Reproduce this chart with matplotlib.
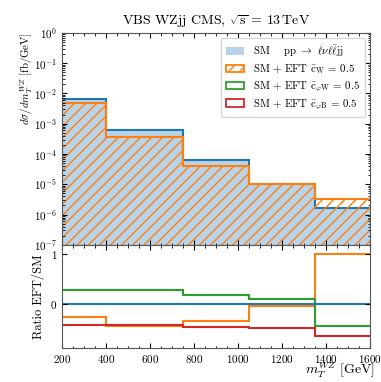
import numpy as np
import matplotlib
matplotlib.use('Agg')
import matplotlib.pyplot as plt
from matplotlib.patches import Patch

plt.rcParams['font.family'] = 'serif'
plt.rcParams['font.serif'] = ['cmr10', 'DejaVu Serif']
plt.rcParams['mathtext.fontset'] = 'cm'
plt.rcParams['axes.unicode_minus'] = False
plt.rcParams['axes.formatter.use_mathtext'] = True

# bin edges in m_T^WZ [GeV]
bin_edges = [200, 400, 750, 1050, 1350, 1600]
# d sigma / d m_T [fb/GeV]
sm_xsec = [6.4e-3, 6.4e-4, 6.5e-5, 1.0e-5, 1.6e-6]
eft_cw_xsec = [5.0e-3, 3.7e-4, 4.1e-5, 1.0e-5, 3.2e-6]
# ratio EFT/SM - 1
ratio_cw = [-0.25, -0.44, -0.34, -0.03, 1.0]
ratio_cphiw = [0.28, 0.28, 0.175, 0.095, -0.43]
ratio_cphib = [-0.42, -0.42, -0.455, -0.48, -0.64]
ratio_sm = [0, 0, 0, 0, 0]

fig = plt.figure(figsize=(3.81, 3.82), dpi=100)
ax = fig.add_axes([0.163, 0.359, 0.808, 0.555])
rax = fig.add_axes([0.163, 0.089, 0.808, 0.270], sharex=ax)

ymin = 1e-7
ax.stairs(sm_xsec, bin_edges, baseline=ymin, fill=True, color='#b9d3e8', lw=0)
ax.stairs(sm_xsec, bin_edges, baseline=None, color='tab:blue', lw=1.5)
ax.stairs(eft_cw_xsec, bin_edges, baseline=ymin, fill=True, facecolor='none',
          edgecolor='tab:orange', hatch='///', lw=0)
ax.stairs(eft_cw_xsec, bin_edges, baseline=None, color='tab:orange', lw=1.5)

ax.set_yscale('log')
ax.set_ylim(1e-7, 1)
ax.set_xlim(200, 1600)
ax.set_ylabel(r'$d\sigma/dm_T^{WZ}$ [fb/GeV]', fontsize=7.8, loc='top')
ax.yaxis.set_label_coords(-0.088, 1.0)
ax.set_title(r'VBS WZjj CMS, $\sqrt{\rm s}\,=\,13\,\rm TeV$', fontsize=10)
plt.setp(ax.get_xticklabels(), visible=False)

handles = [
    Patch(facecolor='#b9d3e8', edgecolor='none'),
    Patch(facecolor='none', edgecolor='tab:orange', hatch='///', lw=1.3),
    Patch(facecolor='none', edgecolor='tab:green', lw=1.3),
    Patch(facecolor='none', edgecolor='tab:red', lw=1.3),
]
labels = [
    r'SM    pp $\rightarrow$ $\ell\nu\ell\bar{\ell}$jj',
    r'SM + EFT $\bar{\rm c}_{\rm W}$ = 0.5',
    r'SM + EFT $\bar{\rm c}_{\varphi\rm W}$ = 0.5',
    r'SM + EFT $\bar{\rm c}_{\varphi\rm B}$ = 0.5',
]
ax.legend(handles, labels, loc='upper right', fontsize=7.8, framealpha=0.8,
          handlelength=1.7, borderpad=0.45, labelspacing=0.32)

rax.stairs(ratio_cw, bin_edges, baseline=None, color='tab:orange', lw=1.5)
rax.stairs(ratio_cphiw, bin_edges, baseline=None, color='tab:green', lw=1.5)
rax.stairs(ratio_cphib, bin_edges, baseline=None, color='tab:red', lw=1.5)
rax.stairs(ratio_sm, bin_edges, baseline=None, color='tab:blue', lw=1.5)
rax.set_ylim(-0.88, 1.19)
rax.set_yticks([0, 1])
rax.set_xticks([200, 400, 600, 800, 1000, 1200, 1400, 1600])
rax.set_ylabel('Ratio EFT/SM', fontsize=9)
rax.yaxis.set_label_coords(-0.055, 0.5)
rax.set_xlabel(r'$m_T^{WZ}$ [GeV]', fontsize=10, loc='right')
rax.xaxis.set_label_coords(1.017, -0.12)

for a in (ax, rax):
    a.minorticks_on()
    a.tick_params(which='both', direction='in', top=True, right=True, labelsize=8)
    a.tick_params(which='major', length=3.5)
    a.tick_params(which='minor', length=1.8)
    for s in a.spines.values():
        s.set_color('#555555')
rax.yaxis.set_minor_locator(matplotlib.ticker.NullLocator())

fig.savefig('out.png', dpi=100)
